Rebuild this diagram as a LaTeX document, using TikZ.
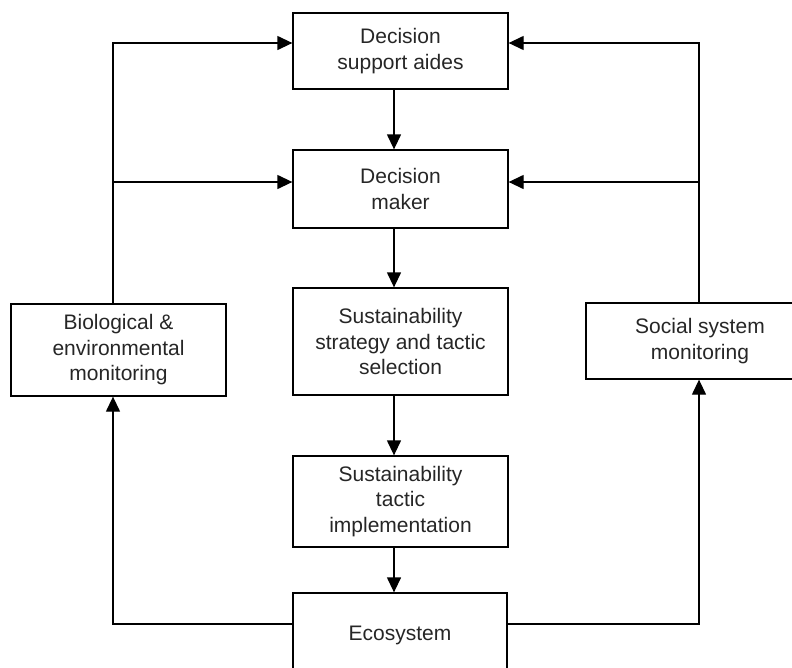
\documentclass[tikz,border=0pt]{standalone}
\usepackage{fontspec}
\setmainfont{Liberation Sans}
\usetikzlibrary{arrows.meta}
\begin{document}
\begin{tikzpicture}[x=1pt,y=-1pt,
  box/.style={draw, line width=1.3pt, align=center, inner sep=0pt,
    font=\fontsize{21}{25.5}\selectfont, text=black!85},
  arr/.style={line width=1.3pt, -{Triangle[length=15pt,width=14pt]}},
  link/.style={line width=1.3pt}]
  \useasboundingbox (0,0) rectangle (792,667);
  \clip (0,0) rectangle (792,667);

  % main chain
  \node[box, minimum width=215pt, minimum height=76pt]  (top)   at (400.5,51)  {Decision\\support aides};
  \node[box, minimum width=215pt, minimum height=78pt]  (dm)    at (400.5,189) {Decision\\maker};
  \node[box, minimum width=215pt, minimum height=107pt] (strat) at (400.5,341.5) {Sustainability\\strategy and tactic\\selection};
  \node[box, minimum width=215pt, minimum height=91pt]  (tact)  at (400.5,501.5) {Sustainability\\tactic\\implementation};
  \node[box, minimum width=214pt, minimum height=84pt]  (eco)   at (400,635) {Ecosystem};

  % monitoring boxes
  \node[box, minimum width=215pt, minimum height=92pt]  (lft)   at (118.5,350) {Biological \&\\environmental\\monitoring};
  \node[box, minimum width=228pt, minimum height=76pt]  (rgt)   at (700,341)   {Social system\\monitoring};

  % guide coordinates for the connectors
  \coordinate (cx) at (394,0);
  \coordinate (lx) at (113,0);
  \coordinate (rx) at (699,0);
  \coordinate (ya) at (0,43);
  \coordinate (yb) at (0,182);
  \coordinate (ye) at (0,624);

  % downward flow
  \draw[arr] (top.south -| cx) -- (dm.north -| cx);
  \draw[arr] (dm.south -| cx) -- (strat.north -| cx);
  \draw[arr] (strat.south -| cx) -- (tact.north -| cx);
  \draw[arr] (tact.south -| cx) -- (eco.north -| cx);

  % left feedback loop
  \draw[arr] (eco.west |- ye) -| (lft.south -| lx);
  \draw[arr] (lft.north -| lx) |- (top.west |- ya);
  \draw[arr] (lx |- yb) -- (dm.west |- yb);

  % right feedback loop
  \draw[arr] (eco.east |- ye) -| (rgt.south -| rx);
  \draw[arr] (rgt.north -| rx) |- (top.east |- ya);
  \draw[arr] (rx |- yb) -- (dm.east |- yb);
\end{tikzpicture}
\end{document}
